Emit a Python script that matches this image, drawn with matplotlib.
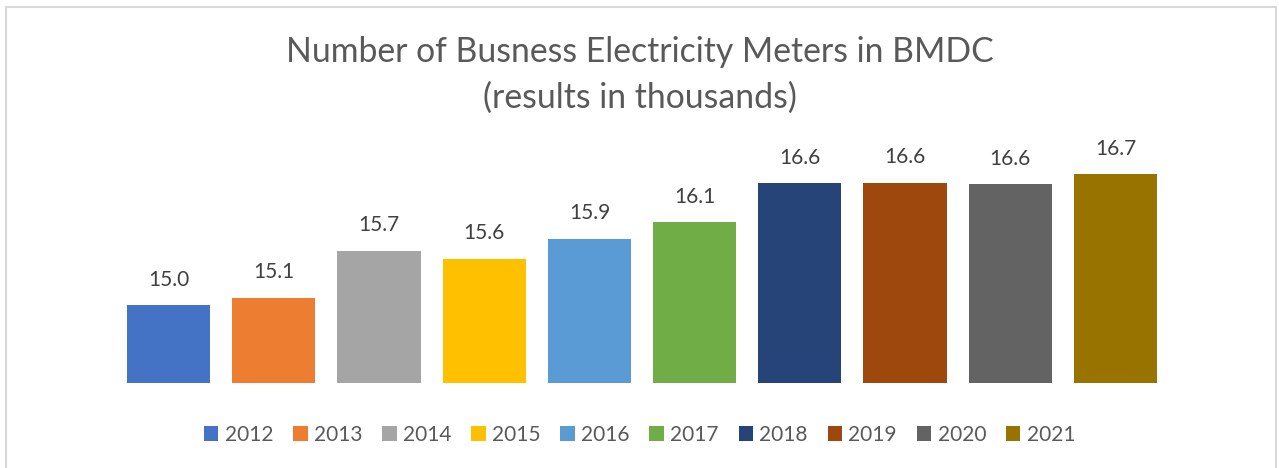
import matplotlib.pyplot as plt
from matplotlib.patches import Rectangle, Patch

# -----------------------------
# Data
# -----------------------------
years = ["2012", "2013", "2014", "2015", "2016", "2017", "2018", "2019", "2020", "2021"]
meters = [15.0, 15.1, 15.7, 15.6, 15.86, 16.07, 16.57, 16.58, 16.56, 16.69]
colors = ["#4472C4", "#ED7D31", "#A5A5A5", "#FFC000", "#5B9BD5",
          "#70AD47", "#264478", "#9E480E", "#636363", "#997300"]

TEXT = "#595959"
plt.rcParams["font.family"] = ["Lato", "DejaVu Sans"]

fig = plt.figure(figsize=(12.79, 4.68), dpi=100)

# chart border
fig.patches.append(Rectangle((6 / 1279, -0.05), 1270 / 1279, 1.05 - 7 / 468,
                             transform=fig.transFigure, fill=False,
                             edgecolor="#D9D9D9", linewidth=1.5))

ax = fig.add_axes([116 / 1279, 85 / 468, 1052 / 1279, 233 / 468])
x = list(range(len(years)))
ax.bar(x, [m - 14 for m in meters], bottom=14, width=0.79, color=colors)
for xi, m in zip(x, meters):
    ax.text(xi, m + 0.2, f"{m:.1f}", ha="center", va="bottom",
            fontsize=15, color="#404040")

ax.set_xlim(-0.5, len(years) - 0.5)
ax.set_ylim(14, 17)
ax.axis("off")

fig.text(0.5, 1 - 52 / 468, "Number of Busness Electricity Meters in BMDC",
         ha="center", va="center", fontsize=24.3, color=TEXT)
fig.text(0.5, 1 - 98 / 468, "(results in thousands)",
         ha="center", va="center", fontsize=24.3, color=TEXT)

handles = [Patch(facecolor=c, label=y) for c, y in zip(colors, years)]
fig.legend(handles=handles, loc="center", bbox_to_anchor=(0.5, 1 - 435 / 468),
           ncol=len(years), frameon=False, fontsize=15, labelcolor=TEXT,
           handlelength=0.7, handleheight=0.7, handletextpad=0.3,
           columnspacing=0.95)

fig.savefig("out.png", dpi=100)
